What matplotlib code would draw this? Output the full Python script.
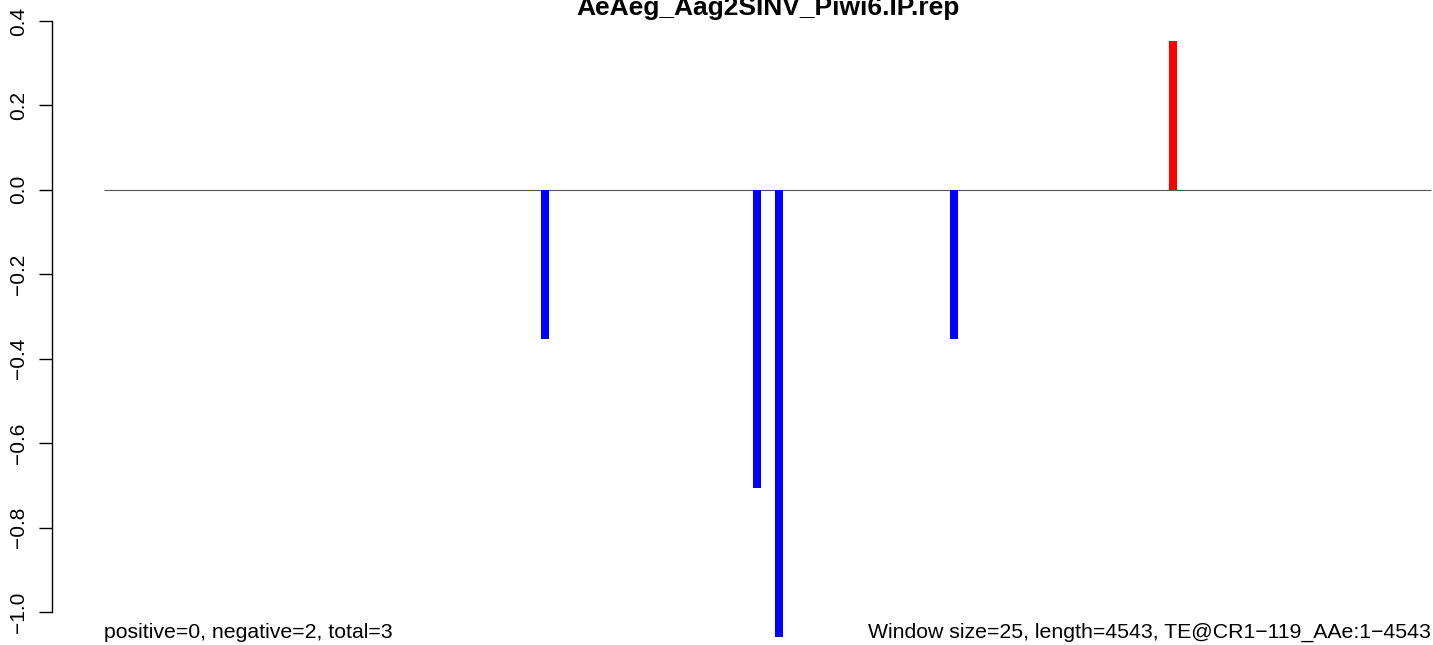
import numpy as np
import matplotlib.pyplot as plt

plt.rcParams['font.family'] = ['Liberation Sans', 'DejaVu Sans']

# chart data
seq_len = 4543
pos = [1510, 2235, 2310, 2910, 3660]
vals = [-0.353, -0.706, -1.059, -0.353, 0.353]
yticks = [-1.0, -0.8, -0.6, -0.4, -0.2, 0.0, 0.2, 0.4]
title = "AeAeg_Aag2SINV_Piwi6.IP.rep"
left_note = "positive=0, negative=2, total=3"
right_note = "Window size=25, length=4543, TE@CR1\u2212119_AAe:1\u22124543"

W, H = 1433, 645
fig = plt.figure(figsize=(W / 100, H / 100), dpi=100)
ax = fig.add_axes([52 / W, 0, (W - 52) / W, 1])

# pixel -> data mapping of the reference
xscale = (1431 - 104) / seq_len
ax.set_xlim(-52 / xscale, seq_len + 2 / xscale)
yscale = 422.0  # px per unit
ax.set_ylim(-1.0 - (H - 612) / yscale, 0.4 + 21 / yscale)

ax.hlines(0, 0, seq_len, color='#555555', lw=0.8)
cols = ['red' if v > 0 else 'blue' for v in vals]
ax.vlines(pos, 0, vals, colors=cols, lw=5.8, capstyle='butt')

for s in ['top', 'right', 'bottom']:
    ax.spines[s].set_visible(False)
ax.spines['left'].set_bounds(-1.0, 0.4)
ax.spines['left'].set_linewidth(1.0)
ax.set_xticks([])
ax.set_yticks(yticks)
ax.set_yticklabels([('%.1f' % t).replace('-', '\u2212') for t in yticks],
                   rotation=90, va='center')
ax.tick_params(axis='y', length=9.5, width=1.0, pad=8, labelsize=15)

fig.text(768 / W, 1 - 15 / H, title, ha='center', va='baseline', fontsize=19, fontweight='bold')
fig.text(104 / W, 1 - 638 / H, left_note, ha='left', va='baseline', fontsize=15.3)
fig.text(1431 / W, 1 - 638 / H, right_note, ha='right', va='baseline', fontsize=15.3)

fig.savefig('out.png', dpi=100)
